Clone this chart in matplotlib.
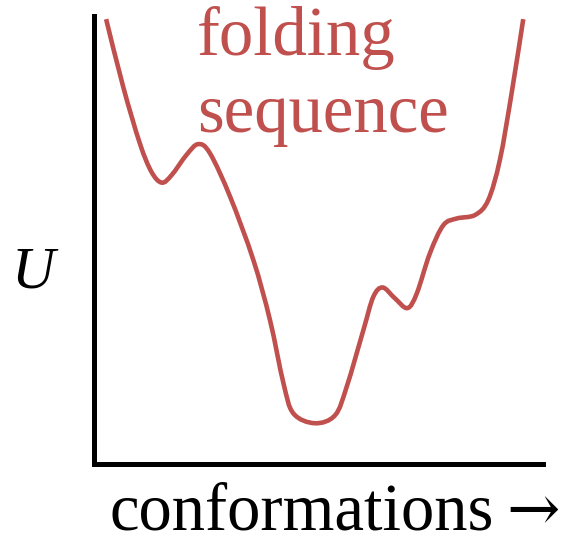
import matplotlib
matplotlib.use("Agg")
import matplotlib.pyplot as plt
import numpy as np
from matplotlib.path import Path
from matplotlib.patches import PathPatch

# Energy landscape anchor points (conformation coordinate, U)
conformation = [2.7, 6.5, 10.2, 12.8, 15.1, 17.3, 20.6, 23.2, 25.8, 30.3, 35.5, 39.2,
                42.2, 44.4, 49.2, 53.7, 56.3, 60.0, 62.2, 64.3, 67.0, 69.8, 71.9,
                74.8, 77.8, 80.8, 84.9, 87.8, 90.4, 93.0, 95.6]
energy_U = [99.3, 84.2, 71.6, 65.2, 62.8, 64.5, 69.0, 71.4, 69.4, 59.7, 45.5, 32.1,
            18.0, 11.3, 9.1, 10.9, 17.3, 29.9, 37.3, 39.4, 37.0, 34.8, 38.1,
            47.0, 53.3, 54.8, 55.6, 58.9, 67.9, 82.7, 99.3]

title_lines = ["folding", "sequence"]
x_label = "conformations"
x_arrow = "\u2192"
y_label = "U"

RED = "#C0504D"
W, H = 564, 545
fig = plt.figure(figsize=(W / 100, H / 100), dpi=100)
ax = fig.add_axes([94 / W, (H - 464) / H, (543 - 94) / W, (464 - 16) / H])
ax.set_xlim(0, 100)
ax.set_ylim(0, 100)

# smooth curve through anchors via Catmull-Rom -> cubic Bezier segments
pts = np.column_stack([conformation, energy_U])
verts = [tuple(pts[0])]
codes = [Path.MOVETO]
n = len(pts)
for i in range(n - 1):
    p0 = pts[i - 1] if i > 0 else pts[i]
    p1 = pts[i]
    p2 = pts[i + 1]
    p3 = pts[i + 2] if i + 2 < n else pts[i + 1]
    c1 = p1 + (p2 - p0) / 6.0
    c2 = p2 - (p3 - p1) / 6.0
    verts += [tuple(c1), tuple(c2), tuple(p2)]
    codes += [Path.CURVE4] * 3
ax.add_patch(PathPatch(Path(verts, codes), facecolor="none", edgecolor=RED,
                       lw=3.3, capstyle="butt", joinstyle="round", clip_on=False))

for s in ["top", "right"]:
    ax.spines[s].set_visible(False)
for s in ["left", "bottom"]:
    ax.spines[s].set_linewidth(3.6)
    ax.spines[s].set_color("black")
ax.set_xticks([])
ax.set_yticks([])

serif = ["Liberation Serif", "DejaVu Serif"]
fig.text(197 / W, 1 - 55 / H, title_lines[0], color=RED, fontsize=49.5,
         family=serif, ha="left", va="baseline")
fig.text(197 / W, 1 - 132 / H, title_lines[1], color=RED, fontsize=49.5,
         family=serif, ha="left", va="baseline")
fig.text(110 / W, 1 - 530 / H, x_label, color="black", fontsize=48,
         family=serif, ha="left", va="baseline")
fig.text(560 / W, 1 - 530 / H, x_arrow, color="black", fontsize=46,
         family=["DejaVu Serif"], ha="right", va="baseline")
fig.text(33 / W, 1 - 287 / H, y_label, color="black", fontsize=43,
         family=serif, style="italic", ha="center", va="baseline")

fig.savefig("out.png", dpi=100)
